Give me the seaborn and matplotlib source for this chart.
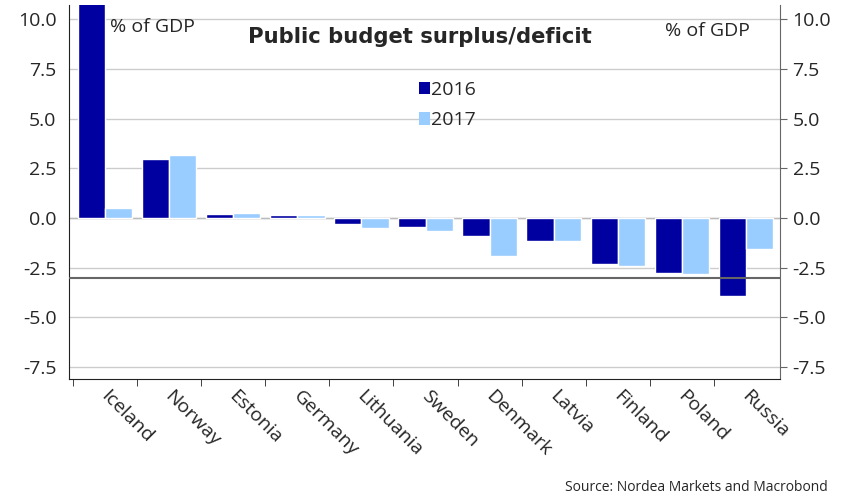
import matplotlib
matplotlib.use("Agg")
import matplotlib.pyplot as plt
import matplotlib.transforms as mtransforms
import seaborn as sns
import pandas as pd
from matplotlib.patches import Patch

countries = ["Iceland", "Norway", "Estonia", "Germany", "Lithuania", "Sweden",
             "Denmark", "Latvia", "Finland", "Poland", "Russia"]
vals_2016 = [12.4, 3.0, 0.2, 0.15, -0.3, -0.45, -0.9, -1.15, -2.3, -2.75, -3.9]
vals_2017 = [0.5, 3.2, 0.25, 0.15, -0.5, -0.65, -1.9, -1.15, -2.4, -2.8, -1.55]
years = ["2016", "2017"]
colors = ["#0000A0", "#99CCFF"]
yticks = [-7.5, -5.0, -2.5, 0.0, 2.5, 5.0, 7.5, 10.0]

df = pd.DataFrame({
    "country": countries * 2,
    "value": vals_2016 + vals_2017,
    "year": [years[0]] * len(countries) + [years[1]] * len(countries),
})

sns.set_style("white")
plt.rcParams["font.family"] = ["Open Sans", "DejaVu Sans"]

fig = plt.figure(figsize=(8.46, 4.98), dpi=100)
ax = fig.add_axes([69 / 846, 1 - 379 / 498, 711 / 846, 374 / 498])

sns.barplot(data=df, x="country", y="value", hue="year", palette=colors,
            saturation=1, width=0.85, edgecolor="white", linewidth=1, ax=ax,
            legend=False, zorder=3)

ax.set_ylim(-8.1, 10.73)
ax.set_xlim(-0.562, 10.53)
ax.set_yticks(yticks)
ax.set_yticklabels([f"{v:.1f}" for v in yticks])
ax.yaxis.grid(True, color="#cccccc", linewidth=1, zorder=0)
ax.axhline(-3, color="#666666", linewidth=1.5, zorder=4)
ax.axhline(0, color="#bbbbbb", linewidth=1, zorder=2)

ax.set_xlabel("")
ax.set_ylabel("")

ax.spines["top"].set_visible(False)
ax.spines["left"].set_color("#222222")
ax.spines["bottom"].set_color("#222222")
ax.spines["right"].set_color("#666666")

ax.tick_params(axis="y", which="both", labelsize=14, left=False, right=True,
               labelleft=True, labelright=True, length=5, direction="out",
               color="#666666", pad=4)
ax.tick_params(axis="x", which="major", length=0, labelsize=14, pad=6)
ax.set_xticks(range(len(countries)))
ax.set_xticklabels(countries, rotation=-45, ha="left", rotation_mode="anchor")
offset = mtransforms.ScaledTranslation(5 / 100, 0, fig.dpi_scale_trans)
for lbl in ax.get_xticklabels():
    lbl.set_transform(lbl.get_transform() + offset)
ax.set_xticks([i - 0.5 for i in range(len(countries))], minor=True)
ax.tick_params(axis="x", which="minor", length=5, direction="out",
               color="#222222", bottom=True)

ax.text(0.0577, 0.941, "% of GDP", transform=ax.transAxes, fontsize=14,
        va="center", ha="left")
ax.text(0.958, 0.9315, "% of GDP", transform=ax.transAxes, fontsize=14,
        va="center", ha="right")
fig.text(420 / 846, 1 - 37 / 498, "Public budget surplus/deficit",
         fontsize=15.2, fontweight="bold", family="DejaVu Sans",
         ha="center", va="center")

handles = [Patch(facecolor=c, edgecolor="none") for c in colors]
leg = ax.legend(handles, years, frameon=False, fontsize=14,
                loc="upper left", bbox_to_anchor=(411 / 846, 1 - 73 / 498),
                bbox_transform=fig.transFigure, handlelength=0.6,
                handleheight=0.6, handletextpad=0.05, labelspacing=0.65,
                borderaxespad=0)

fig.text(828 / 846, 1 - 487 / 498, "Source: Nordea Markets and Macrobond",
         fontsize=10, ha="right", va="center")

fig.savefig("out.png", dpi=100)
